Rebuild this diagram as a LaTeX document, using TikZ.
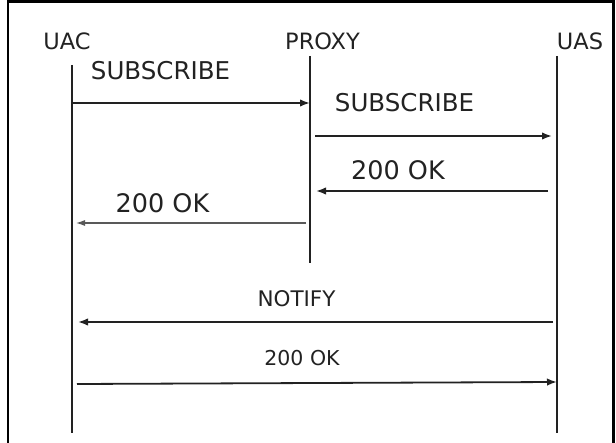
\documentclass[tikz,border=0pt]{standalone}
\usepackage{fontspec}
\setmainfont{DejaVu Sans}
\usetikzlibrary{arrows.meta}
\definecolor{ink}{HTML}{222222}
\begin{document}
\begin{tikzpicture}[x=1pt,y=-1pt,
  lbl/.style={inner sep=0pt,anchor=base,text=ink},
  life/.style={line width=1.4pt,draw=ink},
  msg/.style={line width=1.8pt,draw=ink,-{Latex[length=10pt,width=7.5pt]}},
  thinmsg/.style={line width=1.1pt,draw=black!65,-{Latex[length=9pt,width=6pt]}}]
\useasboundingbox (0,0) rectangle (616,443);
\begin{scope}
\clip (0,0) rectangle (616,443);
\draw[line width=2.6pt,black] (8,1.5) rectangle (613.5,446);
\end{scope}
% headers
\node[lbl,font=\fontsize{22.5}{24}\selectfont] (uac) at (67,50) {UAC};
\node[lbl,font=\fontsize{22.5}{24}\selectfont] (proxy) at (322.5,50) {PROXY};
\node[lbl,font=\fontsize{22.5}{24}\selectfont] (uas) at (580,50) {UAS};
% lifelines
\coordinate (a0) at (72,65);  \coordinate (a1) at (72,433);
\coordinate (p0) at (310,56); \coordinate (p1) at (310,263);
\coordinate (s0) at (557,56); \coordinate (s1) at (557,433);
\draw[life] (a0) -- (a1);
\draw[life] (p0) -- (p1);
\draw[life] (s0) -- (s1);
% message endpoints
\coordinate (m1a) at (72,103);  \coordinate (m1b) at (310,103);
\coordinate (m2a) at (315,136); \coordinate (m2b) at (552,136);
\coordinate (m3a) at (548,191); \coordinate (m3b) at (316,191);
\coordinate (m4a) at (306,223); \coordinate (m4b) at (76,223);
\coordinate (m5a) at (553,322); \coordinate (m5b) at (78,322);
\coordinate (m6a) at (77,384);  \coordinate (m6b) at (557,382);
\draw[msg] (m1a) -- (m1b);
\draw[msg] (m2a) -- (m2b);
\draw[msg] (m3a) -- (m3b);
\draw[thinmsg] (m4a) -- (m4b);
\draw[msg] (m5a) -- (m5b);
\draw[msg] (m6a) -- (m6b);
% labels
\node[lbl,font=\fontsize{24.5}{26}\selectfont] (l1) at (160.5,80) {SUBSCRIBE};
\node[lbl,font=\fontsize{24.5}{26}\selectfont] (l2) at (404.5,112) {SUBSCRIBE};
\node[lbl,font=\fontsize{25.5}{27}\selectfont] (l3) at (398,180) {200 OK};
\node[lbl,font=\fontsize{25.5}{27}\selectfont] (l4) at (162.5,213) {200 OK};
\node[lbl,font=\fontsize{21.5}{23}\selectfont] (l5) at (296.5,307) {NOTIFY};
\node[lbl,font=\fontsize{20.5}{22}\selectfont] (l6) at (302,366) {200 OK};
\end{tikzpicture}
\end{document}
